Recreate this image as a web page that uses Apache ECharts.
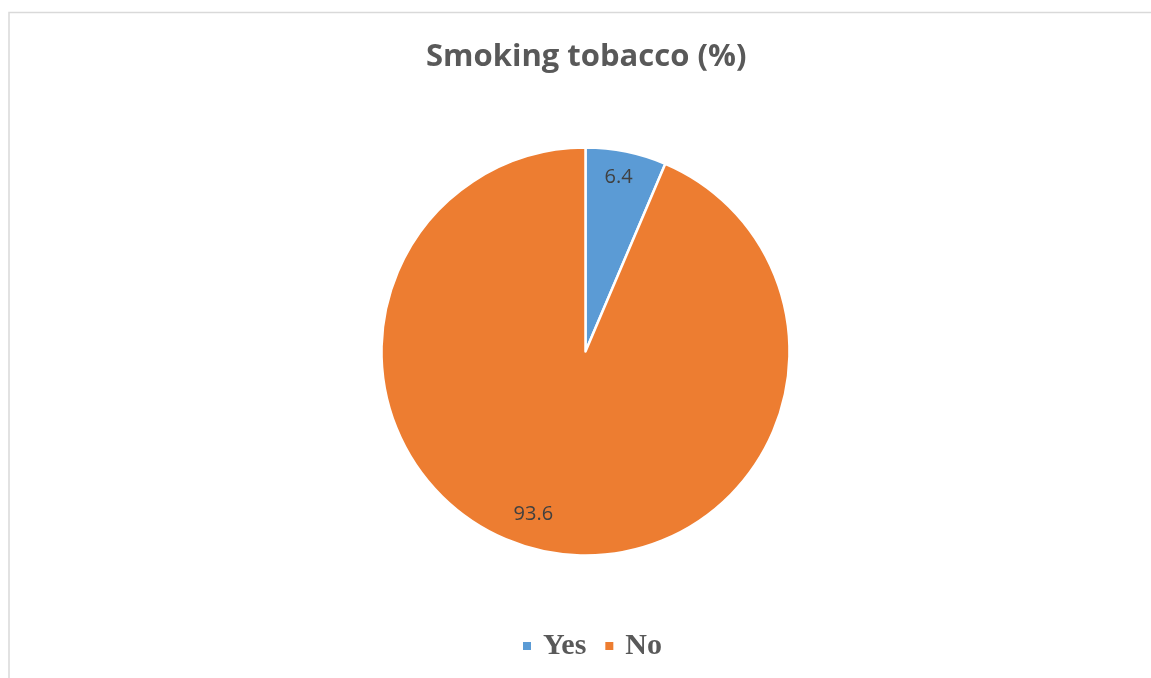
<!DOCTYPE html>
<html>
<head>
<meta charset="utf-8">
<style>
  html, body { margin: 0; padding: 0; background: #ffffff; }
  #chart { width: 1151px; height: 678px; }
</style>
<script src="https://cdn.jsdelivr.net/npm/echarts@6/dist/echarts.min.js"></script>
</head>
<body>
<div id="chart"></div>
<script>
// Smoking tobacco share (%)
const categories = ['Yes', 'No'];
const values = [6.4, 93.6];
const sliceColors = ['#5B9BD5', '#ED7D31'];

const chart = echarts.init(document.getElementById('chart'), null, { renderer: 'canvas' });

const CENTER = [585.5, 351.5];
const RADIUS = 204;

const pieData = categories.map((name, i) => ({
  name,
  value: values[i],
  itemStyle: { color: sliceColors[i] }
}));

// transparent ring used only to place value labels near the rim
const labelData = categories.map((name, i) => ({
  name,
  value: values[i],
  label: i === 1 ? { offset: [-16, -15] } : { offset: [-3, 3] }
}));

chart.setOption({
  backgroundColor: '#ffffff',
  animation: false,
  graphic: [{
    type: 'rect',
    shape: { x: 9, y: 12.5, width: 1160, height: 700 },
    style: { fill: 'none', stroke: '#D9D9D9', lineWidth: 1.5 },
    silent: true,
    z: -1
  }],
  title: {
    text: 'Smoking tobacco (%)',
    left: 421,
    top: 37,
    textStyle: {
      fontFamily: 'Open Sans',
      fontWeight: 'bold',
      fontSize: 31,
      color: '#595959'
    }
  },
  legend: {
    data: categories,
    left: 516,
    top: 626,
    icon: 'rect',
    itemWidth: 10,
    itemHeight: 10,
    itemGap: 17,
    selectedMode: false,
    textStyle: {
      fontFamily: 'Liberation Serif',
      fontWeight: 'bold',
      fontSize: 30,
      color: '#595959',
      padding: [0, 0, 0, 6]
    }
  },
  series: [
    {
      type: 'pie',
      center: CENTER,
      radius: [0, RADIUS],
      startAngle: 90,
      clockwise: true,
      label: { show: false },
      labelLine: { show: false },
      itemStyle: { borderColor: '#ffffff', borderWidth: 2.5 },
      emphasis: { disabled: true },
      data: pieData
    },
    {
      type: 'pie',
      center: CENTER,
      radius: [152, RADIUS],
      startAngle: 90,
      clockwise: true,
      silent: true,
      legendHoverLink: false,
      itemStyle: { color: 'rgba(0,0,0,0)', borderWidth: 0 },
      label: {
        show: true,
        position: 'inside',
        formatter: '{c}',
        fontFamily: 'Open Sans',
        fontSize: 20,
        color: '#404040'
      },
      labelLine: { show: false },
      emphasis: { disabled: true },
      data: labelData
    }
  ]
});
</script>
</body>
</html>
